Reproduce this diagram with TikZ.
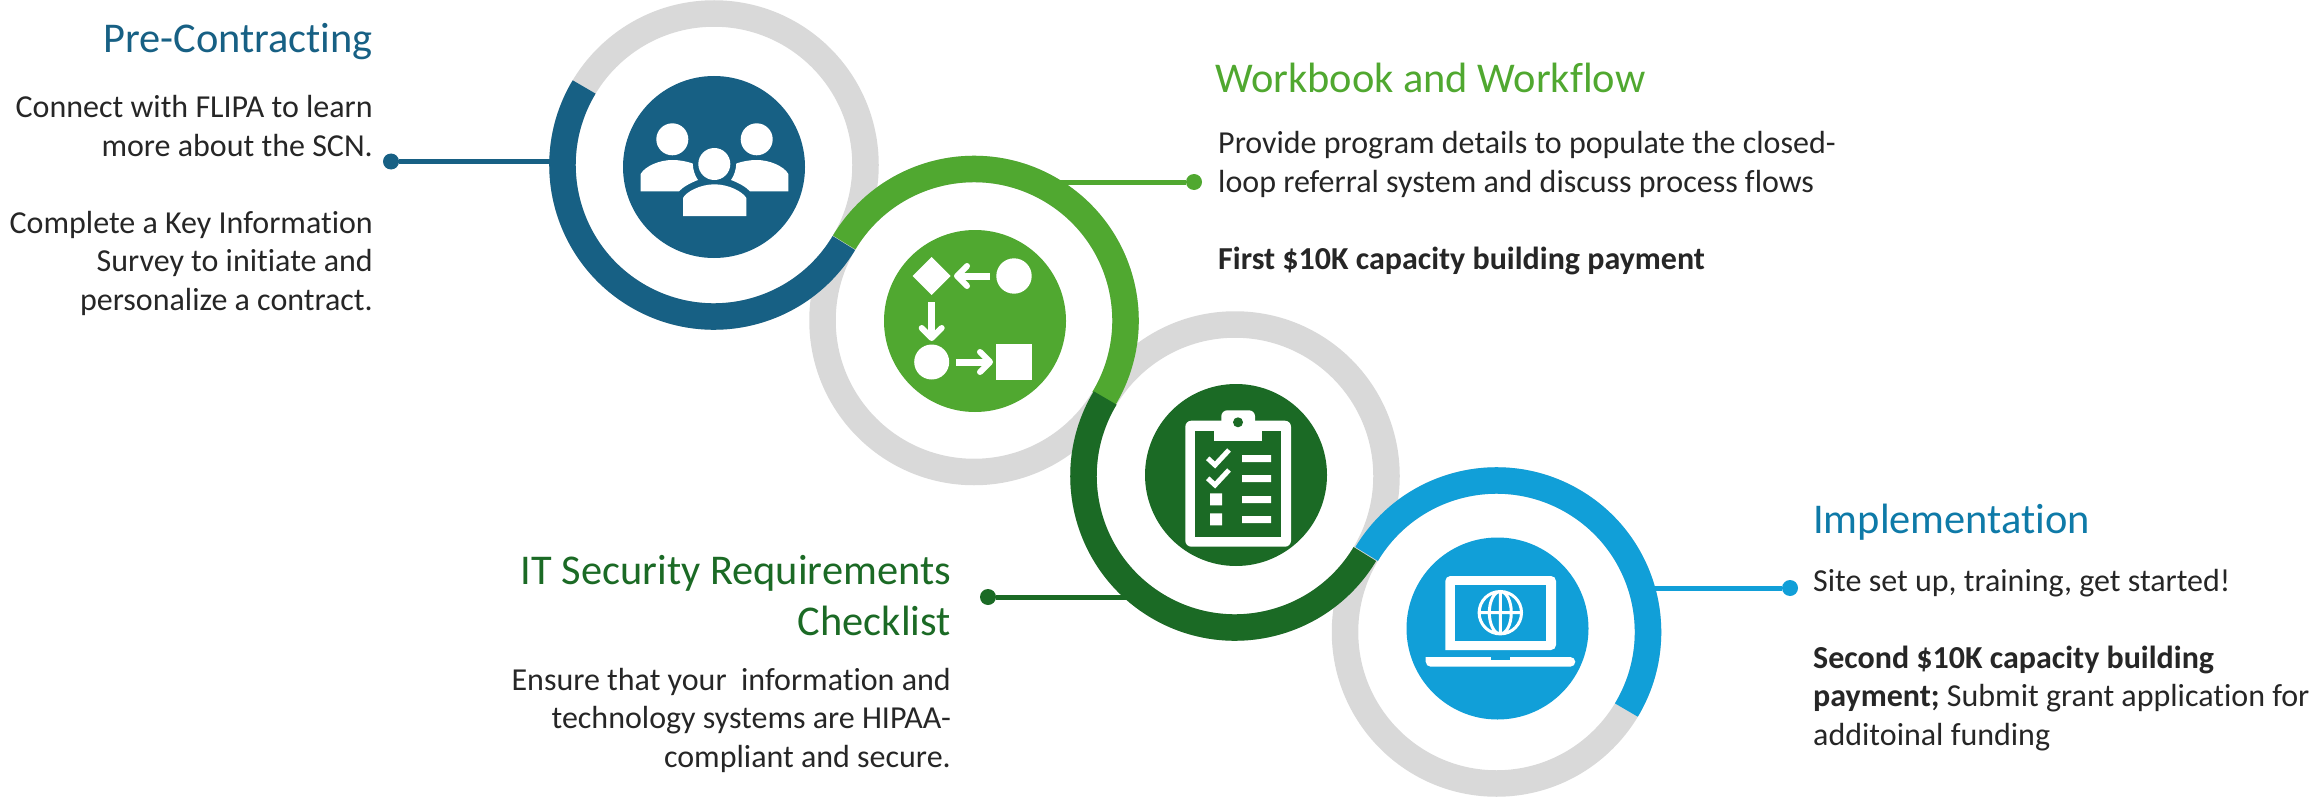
\documentclass[tikz,border=0pt]{standalone}
\usepackage{fontspec}
\setmainfont{Carlito}[Ligatures=CommonOff]
\usetikzlibrary{positioning}
\definecolor{stepblue}{HTML}{176084}
\definecolor{stepgreen}{HTML}{50A830}
\definecolor{stepdark}{HTML}{1B6A25}
\definecolor{stepsky}{HTML}{119FD8}
\definecolor{ringgray}{HTML}{D9D9D9}
\definecolor{bodygray}{HTML}{262626}
\definecolor{headsky}{HTML}{0E7AA8}

\begin{document}
\begin{tikzpicture}[x=1pt,y=1pt,
    ringnode/.style={circle, draw=ringgray, line width=26.5pt, minimum size=303pt, inner sep=0pt, outer sep=0pt},
    discnode/.style={circle, minimum size=182pt, inner sep=0pt, outer sep=0pt},
    dotnode/.style={circle, minimum size=16pt, inner sep=0pt, outer sep=0pt},
    arm/.style={line width=26.5pt},
    link/.style={line width=5pt},
    headtext/.style={inner sep=0pt, font=\fontsize{42.4}{51}\selectfont},
    bodytext/.style={inner sep=0pt, text=bodygray, font=\fontsize{32}{38.5}\selectfont},
    bar/.style={line width=7pt, white},
    chevron/.style={line width=6pt, white, line cap=round, line join=round}
]
  \useasboundingbox (0,0) rectangle (2313,-797);

  \node[ringnode] (ringa) at (714,-165) {};
  \node[ringnode] (ringb) at (974,-320.5) {};
  \node[ringnode] (ringc) at (1235,-476) {};
  \node[ringnode] (ringd) at (1496.5,-632) {};

  \node[dotnode, fill=stepblue] (dota) at (391,-161.5) {};
  \node[dotnode, fill=stepgreen] (dotb) at (1194,-182) {};
  \node[dotnode, fill=stepdark] (dotc) at (988,-597) {};
  \node[dotnode, fill=stepsky] (dotd) at (1790,-588) {};

  \draw[link, stepblue] (dota) -- (dota -| ringa.west);
  \draw[link, stepgreen] (dotb) -- (dotb -| ringb.66);
  \draw[link, stepdark] (dotc) -- (dotc -| ringc.233);
  \draw[link, stepsky] (dotd) -- (dotd -| ringd.17);

  \draw[arm, stepblue] (ringa.149) arc[start angle=149, end angle=329, radius=151.5pt];
  \draw[arm, stepgreen] (ringb.149) arc[start angle=149, end angle=-31, radius=151.5pt];
  \draw[arm, stepdark] (ringc.149) arc[start angle=149, end angle=329, radius=151.5pt];
  \draw[arm, stepsky] (ringd.149) arc[start angle=149, end angle=-31, radius=151.5pt];

  \node[discnode, fill=stepblue] (disca) at (714,-167) {};
  \node[discnode, fill=stepgreen] (discb) at (975,-321) {};
  \node[discnode, fill=stepdark] (discc) at (1236,-475) {};
  \node[discnode, fill=stepsky] (discd) at (1497.5,-628.5) {};

  \fill[white] (672.3,-139.3) circle (16) (756.7,-139.3) circle (16) (714.3,-164) circle (16);
  \fill[white] (640.7,-191.3) -- (640.7,-174) .. controls (645,-166) and (660,-160) .. (672,-160) .. controls (680,-160) and (687,-161.5) .. (692.7,-163.5) .. controls (693,-170) and (695,-176) .. (698,-180) .. controls (690,-183) and (683,-187) .. (679,-191.3) -- cycle;
  \fill[white] (788.3,-191.3) -- (788.3,-174) .. controls (784,-166) and (769,-160) .. (757,-160) .. controls (749,-160) and (742,-161.5) .. (736.3,-163.5) .. controls (736,-170) and (734,-176) .. (731,-180) .. controls (739,-183) and (746,-187) .. (750,-191.3) -- cycle;
  \fill[white] (683,-216) -- (683,-198) .. controls (686,-192) and (700,-184.3) .. (714.5,-184.3) .. controls (729,-184.3) and (743,-192) .. (746.3,-198) -- (746.3,-216) -- cycle;

  \fill[white] (912.7,-276) -- (931.7,-257) -- (950.7,-276) -- (931.7,-295) -- cycle;
  \fill[white] (1014,-276) circle (17.7) (931.7,-362) circle (17.5);
  \fill[white] (996,-344) rectangle (1032,-380);
  \draw[bar] (990,-276) -- (958,-276);
  \draw[chevron] (967,-266) -- (957,-276) -- (967,-286);
  \draw[bar] (931.7,-302.3) -- (931.7,-336);
  \draw[chevron] (921.7,-328) -- (931.7,-338) -- (941.7,-328);
  \draw[bar] (956,-362) -- (988,-362);
  \draw[chevron] (980,-352) -- (990,-362) -- (980,-372);

  \fill[white, rounded corners=6pt] (1185.3,-420.7) rectangle (1291,-546.7);
  \fill[white, rounded corners=6pt] (1221.3,-430) -- (1221.3,-410.3) -- (1255,-410.3) -- (1255,-430) -- cycle;
  \fill[stepdark] (1195.3,-431) rectangle (1281,-536.7);
  \fill[white] (1214.3,-425) rectangle (1262,-441);
  \fill[stepdark] (1238,-422.3) circle (5);
  \draw[white, line width=5pt] (1207.7,-458.3) -- (1215,-465) -- (1229,-450);
  \draw[white, line width=5pt] (1207.7,-478.3) -- (1215,-485) -- (1229,-470);
  \fill[white] (1210,-493.3) rectangle (1222,-505.3) (1210,-513.3) rectangle (1222,-525.3);
  \fill[white] (1242,-455) rectangle (1271,-462) (1242,-475) rectangle (1271,-482) (1242,-496) rectangle (1271,-503) (1242,-516) rectangle (1271,-523);

  \fill[white, rounded corners=5pt] (1445.3,-650) -- (1445.3,-576) -- (1556,-576) -- (1556,-650) [sharp corners] -- cycle;
  \fill[stepsky] (1455,-585.3) rectangle (1546,-640.7);
  \fill[white, rounded corners=5pt] (1425.7,-657) -- (1425.7,-666.7) -- (1575.3,-666.7) -- (1575.3,-657) [sharp corners] -- cycle;
  \fill[stepsky] (1490.7,-657) rectangle (1510.3,-660);
  \draw[white, line width=3pt] (1500.3,-612.7) circle (21.2) (1500.3,-612.7) ellipse (11 and 21.2) (1500.3,-591.5) -- (1500.3,-633.9) (1479.1,-612.7) -- (1521.5,-612.7);

  \node[headtext, text=stepblue, anchor=base east] (heada) at (373,-53) {Pre-Contracting};
  \node[bodytext, align=right, below=35pt of heada.south east, anchor=north east] (bodya) {Connect with FLIPA to learn\\more about the SCN.\\[38.5pt]Complete a Key Information\\Survey to initiate and\\personalize a contract.};

  \node[headtext, text=stepgreen, anchor=base west] (headb) at (1215,-93) {Workbook and Workflow};
  \node[bodytext, align=left, below=38pt of headb.south west, anchor=north west, xshift=3pt] (bodyb) {Provide program details to populate the closed-\\loop referral system and discuss process flows\\[38.5pt]\textbf{First \$10K capacity building payment}};

  \node[headtext, text=stepdark, align=right, anchor=north east] (headc) at (951,-555) {IT Security Requirements\\Checklist};
  \node[bodytext, align=right, below=32pt of headc.south east, anchor=north east] (bodyc) {Ensure that your\ \ information and\\technology systems are HIPAA-\\compliant and secure.};

  \node[headtext, text=headsky, anchor=base west] (headd) at (1813,-533) {Implementation};
  \node[bodytext, align=left, below=29pt of headd.south west, anchor=north west] (bodyd) {Site set up, training, get started!\\[38.5pt]\textbf{Second \$10K capacity building}\\\textbf{payment;} Submit grant application for\\additoinal funding};
\end{tikzpicture}
\end{document}
